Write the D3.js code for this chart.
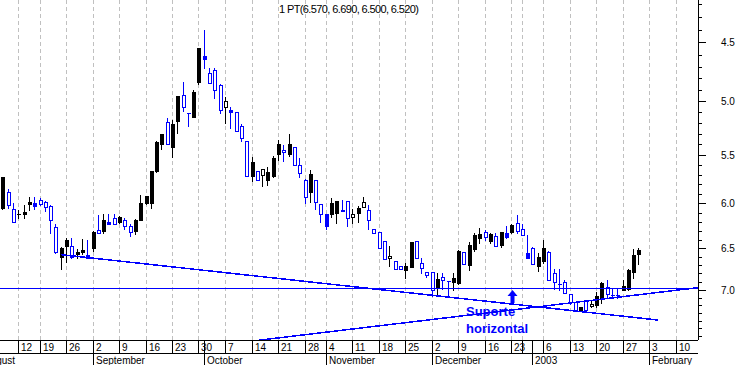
<!DOCTYPE html>
<html>
<head>
<meta charset="utf-8">
<script src="https://cdn.jsdelivr.net/npm/d3@7"></script>
<style>
  body { margin: 0; background: #fff; }
  text { font-family: "Liberation Sans", Arial, sans-serif; }
</style>
</head>
<body>
<div id="chart"></div>
<script>
// daily candles, first one is trading day -3 (day 0 = 12 Aug 2002)
var firstDay = -3;
var open = [6.05,5.88,6.06,6.12,6.11,6.01,6.03,5.96,5.98,6.03,6.26,6.60,6.47,6.47,6.57,6.55,6.61,6.50,6.29,6.30,
  6.22,6.16,6.20,6.18,6.25,6.30,6.18,6.00,6.00,5.66,5.40,5.19,5.43,5.18,4.94,5.11,5.14,4.83,4.64,4.75,
  4.73,4.86,5.00,5.10,5.10,5.23,5.37,5.71,5.66,5.64,5.75,5.71,5.49,5.45,5.49,5.43,5.60,5.75,5.88,5.75,
  6.01,6.25,6.12,6.10,6.08,5.97,6.12,6.10,5.99,6.07,6.28,6.32,6.42,6.59,6.65,6.71,6.76,6.72,6.42,6.67,
  6.78,6.78,6.97,6.84,6.89,6.91,6.92,6.54,6.70,6.51,6.38,6.31,6.42,6.36,6.46,6.37,6.32,6.21,6.28,6.61,
  6.50,6.71,6.65,6.55,6.79,6.93,6.90,7.06,7.16,7.26,7.14,7.18,7.19,7.12,6.97,7.07,7.07,7.00,6.99,6.78,6.57];
var high = [6.06,6.05,6.20,6.16,6.16,6.07,6.06,6.02,6.08,6.33,6.56,6.74,6.66,6.62,6.62,6.57,6.61,6.53,6.33,6.33,
  6.23,6.22,6.21,6.28,6.36,6.34,6.18,6.01,6.05,5.67,5.44,5.40,5.52,5.29,5.09,5.23,5.14,4.85,4.71,4.84,
  4.97,5.11,5.20,5.24,5.27,5.37,5.71,5.76,5.75,5.82,5.81,5.72,5.55,5.56,5.51,5.60,5.72,6.00,5.99,6.06,
  6.20,6.28,6.15,6.21,6.08,6.25,6.21,6.20,6.04,6.28,6.33,6.50,6.63,6.71,6.74,6.75,6.85,6.72,6.61,6.79,
  6.84,7.08,7.05,6.99,7.07,7.00,6.93,6.69,6.76,6.53,6.44,6.41,6.44,6.48,6.49,6.38,6.33,6.33,6.35,6.61,
  6.69,6.77,6.68,6.88,6.99,7.00,7.04,7.18,7.26,7.27,7.27,7.22,7.22,7.17,7.10,7.10,7.11,7.00,7.00,6.86,6.69];
var low = [5.72,5.85,6.00,6.07,6.02,5.93,5.93,5.94,5.97,6.02,6.23,6.49,6.38,6.38,6.51,6.39,6.40,6.30,6.13,6.12,
  6.12,6.12,6.14,6.16,6.23,6.17,5.91,5.92,5.66,5.37,5.30,5.15,5.17,4.95,4.83,5.11,4.90,4.55,4.40,4.71,
  4.71,4.85,4.96,5.05,5.10,5.21,5.37,5.52,5.66,5.64,5.62,5.51,5.36,5.41,5.30,5.43,5.53,5.74,5.65,5.75,
  6.01,6.12,5.94,5.97,5.96,5.97,6.06,6.03,5.93,6.02,6.28,6.32,6.42,6.47,6.65,6.71,6.68,6.43,6.42,6.61,
  6.78,6.78,6.79,6.79,6.89,6.80,6.52,6.54,6.43,6.33,6.27,6.29,6.33,6.33,6.32,6.25,6.22,6.13,6.23,6.35,
  6.49,6.56,6.41,6.53,6.74,6.75,6.88,7.06,7.16,7.22,7.14,7.13,7.03,6.90,6.88,6.98,6.99,6.88,6.74,6.51,6.50];
var close = [5.72,6.02,6.20,6.12,6.09,5.99,6.00,6.01,6.04,6.18,6.54,6.50,6.41,6.60,6.55,6.52,6.58,6.31,6.33,6.18,
  6.20,6.22,6.15,6.25,6.32,6.18,6.00,5.92,5.66,5.38,5.30,5.40,5.21,4.95,5.05,5.11,4.92,4.55,4.61,4.84,
  4.90,5.08,5.05,5.08,5.27,5.34,5.71,5.57,5.75,5.70,5.67,5.53,5.40,5.47,5.40,5.60,5.68,5.93,5.69,5.98,
  6.11,6.12,6.00,5.97,6.07,6.16,6.15,6.05,6.04,6.18,6.33,6.50,6.63,6.62,6.74,6.75,6.71,6.43,6.61,6.73,
  6.82,7.01,6.87,6.88,6.89,6.86,6.53,6.69,6.46,6.35,6.34,6.37,6.34,6.47,6.32,6.33,6.24,6.30,6.35,6.56,
  6.69,6.60,6.50,6.88,6.90,6.93,7.04,7.16,7.26,7.22,7.26,7.21,7.08,6.92,7.06,7.07,7.07,6.96,6.76,6.58,6.52];

// weekly ticks on the date axis (trading day index)
var weekDays = [0,4,9,14,19,24,29,34,39,44,49,54,58,63,68,73,78,83,88,93,95,99,104,109,114,119,124];
var weekLabels = ["12","19","26","2","9","16","23","30","7","14","21","28","4","11","18","25",
  "2","9","16","23","30","6","13","20","27","3","10"];
var monthDays = [-7,14,35,58,78,97,119];
var monthLabels = ["August","September","October","November","December","2003","February"];

var priceLabels = [4.5,5.0,5.5,6.0,6.5,7.0];

// drawn lines: [day, price] end points
var trendDown = [[8,6.575],[120.75,7.39]];
var trendUp = [[45.5,7.66],[128.3,6.974]];
var supportPrice = 6.974;
var arrowDay = 93.15, arrowTop = 7.0, arrowBottom = 7.17;

var width = 738, height = 365,
    plotRight = 698, plotBottom = 340, dayRow = 353;

var svg = d3.select("#chart").append("svg")
    .attr("width", width)
    .attr("height", height)
    .attr("shape-rendering", "crispEdges");

var x = d3.scaleLinear().domain([0, 124]).range([18.3, 675.5]);
var y = d3.scaleLog().domain([4.5, 7]).range([42.3, 289.7]);

function px(v) { return Math.round(v) + 0.5; }

svg.append("clipPath").attr("id", "plot")
  .append("rect").attr("x", 0).attr("y", 0).attr("width", plotRight).attr("height", plotBottom);

// dashed week grid
svg.append("g").selectAll("line")
  .data(weekDays)
  .enter().append("line")
    .attr("x1", function(d) { return px(x(d)); })
    .attr("x2", function(d) { return px(x(d)); })
    .attr("y1", 0)
    .attr("y2", plotBottom)
    .attr("stroke", "#c0c0c0")
    .attr("stroke-dasharray", "4,3");

var candles = open.map(function(o, k) {
  return {day: firstDay + k, o: o, h: high[k], l: low[k], c: close[k],
          prev: k ? close[k - 1] : o};
});

var g = svg.append("g").attr("clip-path", "url(#plot)");

g.selectAll("g.candle")
  .data(candles)
  .enter().append("g")
    .attr("class", "candle")
    .each(function(d) {
      var el = d3.select(this);
      var col = d.c >= d.prev ? "#0000ff" : "#000000";
      var cx = Math.round(x(d.day));
      var top = Math.round(y(Math.min(d.o, d.c))),
          bot = Math.round(y(Math.max(d.o, d.c)));
      el.append("line")
        .attr("x1", cx + 0.5).attr("x2", cx + 0.5)
        .attr("y1", Math.round(y(d.l))).attr("y2", Math.round(y(d.h)) + 1)
        .attr("stroke", col);
      if (bot - top < 1) {
        // open == close
        el.append("line")
          .attr("x1", cx - 1).attr("x2", cx + 3)
          .attr("y1", top + 0.5).attr("y2", top + 0.5)
          .attr("stroke", col);
      } else if (d.c < d.o) {
        el.append("rect")
          .attr("x", cx - 1).attr("width", 4)
          .attr("y", top).attr("height", bot - top + 1)
          .attr("fill", col);
      } else {
        el.append("rect")
          .attr("x", cx - 0.5).attr("width", 3)
          .attr("y", top + 0.5).attr("height", bot - top)
          .attr("fill", "#fff")
          .attr("stroke", col);
      }
    });

// support and trend lines
g.append("line")
  .attr("x1", 0).attr("x2", plotRight)
  .attr("y1", px(y(supportPrice))).attr("y2", px(y(supportPrice)))
  .attr("stroke", "#0000ff");

var trend = d3.line()
  .x(function(d) { return x(d[0]); })
  .y(function(d) { return y(d[1]); });

[trendDown, trendUp].forEach(function(t) {
  g.append("path")
    .attr("d", trend(t))
    .attr("fill", "none")
    .attr("stroke", "#0000ff")
    .attr("stroke-width", 1.5);
});

// arrow and note
var ax = Math.round(x(arrowDay)), at = Math.round(y(arrowTop)), ab = Math.round(y(arrowBottom));
svg.append("path")
  .attr("d", "M" + (ax + 0.5) + "," + at + "L" + (ax + 5.5) + "," + (at + 6) + "L" + (ax + 2.5) + "," + (at + 6) +
             "L" + (ax + 2.5) + "," + ab + "L" + (ax - 1.5) + "," + ab + "L" + (ax - 1.5) + "," + (at + 6) +
             "L" + (ax - 4.5) + "," + (at + 6) + "Z")
  .attr("fill", "#0000ff")
  .attr("shape-rendering", "auto");

var note = svg.append("text")
  .attr("x", ax - 46)
  .attr("y", ab + 13)
  .attr("fill", "#0000ff")
  .style("font-size", "13px")
  .style("font-weight", "bold");
note.append("tspan").text("Suporte");
note.append("tspan").attr("x", ax - 46).attr("dy", 17).text("horizontal");

// title with last candle values
var last = candles[candles.length - 1];
var f3 = d3.format(".3f");
svg.append("text")
  .attr("x", 279)
  .attr("y", 13)
  .attr("textLength", 140)
  .attr("lengthAdjust", "spacing")
  .style("font-size", "11px")
  .text("1 PT(" + [last.o, last.h, last.l, last.c].map(f3).join(", ") + ")");

// price axis on the right
svg.append("line")
  .attr("x1", px(plotRight)).attr("x2", px(plotRight))
  .attr("y1", 0).attr("y2", plotBottom)
  .attr("stroke", "#000");

var minor = d3.range(42, 77).map(function(v) { return v / 10; })
  .filter(function(v) { return y(v) >= 0 && y(v) <= plotBottom; });

svg.append("g").selectAll("line")
  .data(minor)
  .enter().append("line")
    .attr("x1", plotRight)
    .attr("x2", function(d) { return priceLabels.indexOf(d) >= 0 ? plotRight + 8 : plotRight + 4; })
    .attr("y1", function(d) { return px(y(d)); })
    .attr("y2", function(d) { return px(y(d)); })
    .attr("stroke", "#000");

svg.append("g").selectAll("text")
  .data(priceLabels)
  .enter().append("text")
    .attr("x", 721)
    .attr("y", function(d) { return y(d) + 4; })
    .style("font-size", "10px")
    .text(d3.format(".1f"));

// date axis
[plotBottom, dayRow].forEach(function(v) {
  svg.append("line")
    .attr("x1", 0).attr("x2", plotRight)
    .attr("y1", px(v)).attr("y2", px(v))
    .attr("stroke", "#000");
});

var wk = svg.append("g").selectAll("g")
  .data(weekDays)
  .enter().append("g");
wk.append("line")
  .attr("x1", function(d) { return px(x(d)); })
  .attr("x2", function(d) { return px(x(d)); })
  .attr("y1", plotBottom).attr("y2", dayRow)
  .attr("stroke", "#000");
// a label is left out when it would run into the one before it
wk.filter(function(d, k) { return k === 0 || x(d) - x(weekDays[k - 1]) > 15; })
  .append("text")
    .attr("x", function(d) { return Math.round(x(d)) + 3; })
    .attr("y", 350.5)
    .style("font-size", "10px")
    .text(function(d) { return weekLabels[weekDays.indexOf(d)]; });

var mo = svg.append("g").selectAll("g")
  .data(monthDays)
  .enter().append("g");
mo.append("line")
  .attr("x1", function(d) { return px(x(d)); })
  .attr("x2", function(d) { return px(x(d)); })
  .attr("y1", plotBottom).attr("y2", height)
  .attr("stroke", "#000");
mo.append("text")
  .attr("x", function(d) { return Math.round(x(d)) + 3; })
  .attr("y", 363.5)
  .style("font-size", "10px")
  .text(function(d, k) { return monthLabels[k]; });
</script>
</body>
</html>
